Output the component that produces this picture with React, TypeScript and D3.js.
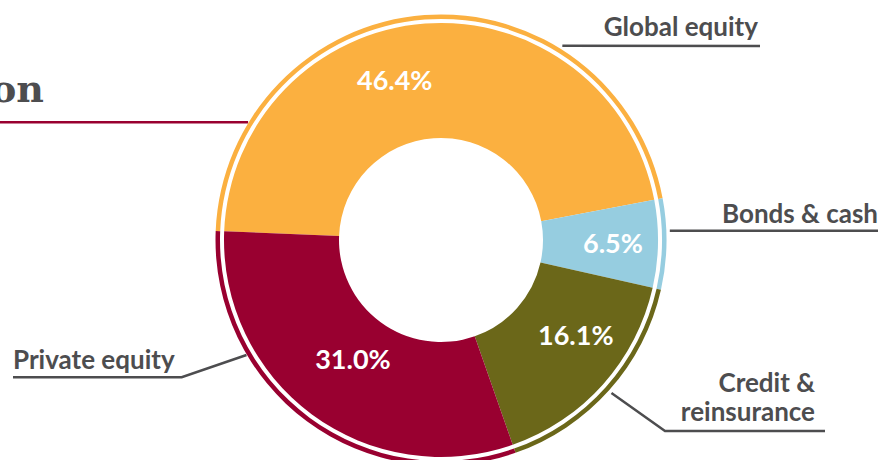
import * as d3 from "d3";

// Portfolio split by asset class (shares in %, as printed on the slices)
const categories = ["Global equity", "Bonds & cash", "Credit & reinsurance", "Private equity"];
const shares = [46.4, 6.5, 16.1, 31.0];
const sliceColors = ["#FBB040", "#96CDE0", "#6B6719", "#990030"];

// label layout: nudge (deg) + radius for the % figure inside each slice
const pctNudge = [-12, 0, -6.5, 0];
const pctRadius = [166, 172, 165, 148];

const W = 892;
const H = 460;
const cx = 441;
const cy = 240;
const rInner = 102;
const rOuter = 217;
const ringIn = 221;
const ringOut = 225.5;
const startDeg = -87.7;

const ink = "#4D4D4F";
const sans = "Lato, 'Noto Sans', sans-serif";
const rad = (deg: number) => (deg * Math.PI) / 180;

// point on a circle around the centre, d3 angle convention (0 = 12 o'clock)
const polar = (deg: number, r: number): [number, number] => [
  cx + r * Math.sin(rad(deg)),
  cy - r * Math.cos(rad(deg)),
];

export default function App() {
  const pie = d3
    .pie<number>()
    .sort(null)
    .value((d) => d)
    .startAngle(rad(startDeg))
    .endAngle(rad(startDeg + 360));
  const slices = pie(shares);

  const arc = d3.arc<d3.PieArcDatum<number>>().innerRadius(rInner).outerRadius(rOuter);
  const ring = d3.arc<d3.PieArcDatum<number>>().innerRadius(ringIn).outerRadius(ringOut);
  const line = d3.line();

  // leader lines: from the ring out to the label underline
  const leaders: [number, number][][] = [
    [polar(32, 229), [760, 46]],
    [polar(87.7, 229), [878, 230.7]],
    [polar(131.9, 229), [665, 431], [825, 431]],
    [polar(239.4, 226), [181.7, 377.3], [13, 377.3]],
  ];

  const labelStyle = {
    fontFamily: sans,
    fontWeight: 700,
    fontSize: 26,
    fill: ink,
  } as const;

  return (
    <svg
      width={W}
      height={H}
      viewBox={`0 0 ${W} ${H}`}
      style={{ position: "absolute", left: 0, top: 0, background: "#fff" }}
    >
      {/* title, cut by the left edge */}
      <text
        x={44}
        y={101.7}
        textAnchor="end"
        fontFamily="'DejaVu Serif', serif"
        fontWeight={700}
        fontSize={38}
        fill={ink}
      >
        Asset allocation
      </text>
      <path
        d={line([[0, 122.3], polar(-58.6, 226)]) ?? ""}
        stroke="#990030"
        strokeWidth={2.5}
        fill="none"
      />

      <g transform={`translate(${cx},${cy})`}>
        {slices.map((s, i) => (
          <g key={categories[i]}>
            <path d={arc(s) ?? ""} fill={sliceColors[i]} />
            <path d={ring(s) ?? ""} fill={sliceColors[i]} />
          </g>
        ))}
      </g>

      {slices.map((s, i) => {
        const mid = ((s.startAngle + s.endAngle) / 2) * (180 / Math.PI) + pctNudge[i];
        const [x, y] = polar(mid, pctRadius[i]);
        return (
          <text
            key={`pct-${i}`}
            x={x}
            y={y}
            dy="0.36em"
            textAnchor="middle"
            fontFamily={sans}
            fontWeight={700}
            fontSize={27}
            fill="#fff"
          >
            {`${shares[i].toFixed(1)}%`}
          </text>
        );
      })}

      {leaders.map((pts, i) => (
        <path
          key={`lead-${i}`}
          d={line(pts) ?? ""}
          stroke={ink}
          strokeWidth={2.5}
          fill="none"
        />
      ))}

      <text x={758} y={36} textAnchor="end" {...labelStyle}>
        {categories[0]}
      </text>
      <text x={878} y={222.7} textAnchor="end" {...labelStyle}>
        {categories[1]}
      </text>
      <text x={815} y={391.7} textAnchor="end" {...labelStyle}>
        Credit &amp;
      </text>
      <text x={815} y={421} textAnchor="end" {...labelStyle}>
        reinsurance
      </text>
      <text x={13} y={369.3} textAnchor="start" {...labelStyle}>
        {categories[3]}
      </text>
    </svg>
  );
}
